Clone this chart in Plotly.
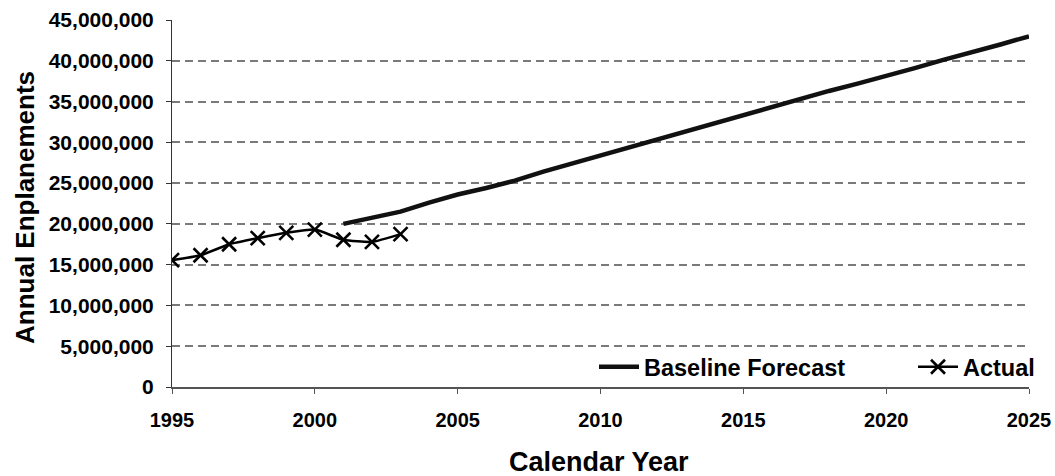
import plotly.graph_objects as go

actual_years = [1995, 1996, 1997, 1998, 1999, 2000, 2001, 2002, 2003]
actual_values = [15.55e6, 16.15e6, 17.5e6, 18.25e6, 18.9e6, 19.3e6, 18.05e6, 17.8e6, 18.75e6]

forecast_years = list(range(2001, 2026))
forecast_values = [20.0e6, 20.7e6, 21.5e6, 22.6e6, 23.6e6, 24.4e6, 25.3e6, 26.4e6, 27.4e6,
                   28.3e6, 29.4e6, 30.4e6, 31.4e6, 32.4e6, 33.3e6, 34.3e6, 35.3e6, 36.3e6,
                   37.2e6, 38.1e6, 39.1e6, 40.1e6, 41.0e6, 42.0e6, 43.0e6]

y_ticks = [0, 5e6, 10e6, 15e6, 20e6, 25e6, 30e6, 35e6, 40e6, 45e6]
y_tick_labels = ["0", "5,000,000", "10,000,000", "15,000,000", "20,000,000", "25,000,000",
                 "30,000,000", "35,000,000", "40,000,000", "45,000,000"]
x_ticks = [1995, 2000, 2005, 2010, 2015, 2020, 2025]

x_title = "Calendar Year"
y_title = "Annual Enplanements"

FONT = "Liberation Sans, Arial, sans-serif"
LEGEND_FONT = dict(family=FONT, size=23.5, color="black", weight="bold")

# plot-area geometry (pixels)
L, R, T, B = 172, 26, 20, 89
PW, PH = 1055 - L - R, 476 - T - B

fig = go.Figure()
fig.add_trace(go.Scatter(
    x=forecast_years, y=forecast_values, name="Baseline Forecast",
    mode="lines", line=dict(color="#111111", width=4.5), legend="legend",
))
fig.add_trace(go.Scatter(
    x=actual_years, y=actual_values, name="Actual",
    mode="lines+markers",
    line=dict(color="black", width=2.5, shape="spline", smoothing=0.5),
    marker=dict(symbol="x-thin", size=14, line=dict(color="black", width=2.6), color="black"),
    legend="legend2",
))

fig.update_layout(
    width=1055, height=476,
    margin=dict(l=L, r=R, t=T, b=B, autoexpand=False),
    paper_bgcolor="white", plot_bgcolor="white",
    font=dict(family=FONT, color="black"),
    showlegend=True,
    legend=dict(
        orientation="h", x=(594 - L) / PW, xanchor="left",
        y=(476 - B - 367) / PH, yanchor="middle",
        font=LEGEND_FONT, bgcolor="rgba(0,0,0,0)", itemwidth=40,
    ),
    legend2=dict(
        orientation="h", x=(913 - L) / PW, xanchor="left",
        y=(476 - B - 367) / PH, yanchor="middle",
        font=LEGEND_FONT, bgcolor="rgba(0,0,0,0)", itemwidth=40,
    ),
    xaxis=dict(
        range=[1995, 2025], tickvals=x_ticks, ticktext=[str(v) for v in x_ticks],
        showgrid=False, zeroline=False, automargin=False,
        showline=True, linecolor="#555555", linewidth=1.5,
        ticks="outside", ticklen=5, tickcolor="#555555",
        ticklabelstandoff=9,
        tickfont=dict(family=FONT, size=20, color="black", weight="bold"),
    ),
    yaxis=dict(
        range=[0, 45e6], tickvals=y_ticks, ticktext=y_tick_labels,
        showgrid=True, gridcolor="#7a7a7a", gridwidth=1.5, griddash="8px,5px",
        zeroline=False, automargin=False,
        showline=True, linecolor="#333333", linewidth=1,
        ticks="outside", ticklen=5, tickcolor="#333333",
        ticklabelstandoff=8,
        tickfont=dict(family=FONT, size=21, color="black", weight="bold"),
    ),
    annotations=[
        dict(text=x_title, xref="paper", yref="paper",
             x=(599 - L) / PW, y=(476 - B - 462) / PH, xanchor="center", yanchor="middle",
             showarrow=False, font=dict(family=FONT, size=27, color="black", weight="bold")),
        dict(text=y_title, xref="paper", yref="paper", textangle=-90,
             x=(25 - L) / PW, y=(476 - B - 208) / PH, xanchor="center", yanchor="middle",
             showarrow=False, font=dict(family=FONT, size=26, color="black", weight="bold")),
    ],
)

fig.write_html(
    "out.html",
    config={"displayModeBar": False},
    post_script="document.body.style.margin='0';document.body.style.overflow='hidden';",
)
